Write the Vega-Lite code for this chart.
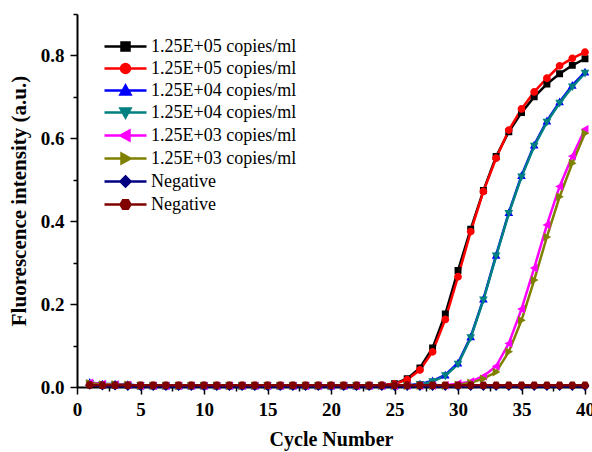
{
  "$schema": "https://vega.github.io/schema/vega-lite/v6.json",
  "width": 508,
  "height": 373,
  "autosize": {"type": "none"},
  "padding": {"left": 77, "top": 14, "right": 7, "bottom": 65},
  "background": "white",
  "config": {
    "view": {"stroke": null},
    "font": "Liberation Serif",
    "axis": {
      "grid": false,
      "domainColor": "black",
      "domainWidth": 2,
      "tickColor": "black",
      "tickWidth": 1.5,
      "tickSize": 7,
      "labelFont": "Liberation Serif",
      "labelFontWeight": "bold",
      "labelFontSize": 19,
      "labelColor": "black",
      "titleFont": "Liberation Serif",
      "titleFontWeight": "bold",
      "titleFontSize": 20,
      "titleColor": "black"
    },
    "legend": {
      "orient": "none",
      "legendX": 37,
      "legendY": 21,
      "title": null,
      "padding": 0,
      "symbolSize": 400,
      "symbolStrokeWidth": 2.5,
      "labelOffset": 14,
      "rowPadding": 1,
      "labelFont": "Liberation Serif",
      "labelFontSize": 18,
      "labelFontWeight": "normal",
      "labelColor": "black"
    }
  },
  "datasets": {
    "qpcr": [
      {"s": "1.25E+05 copies/ml #1", "c": 1, "v": 0.008}, {"s": "1.25E+05 copies/ml #1", "c": 2, "v": 0.005}, {"s": "1.25E+05 copies/ml #1", "c": 3, "v": 0.005}, {"s": "1.25E+05 copies/ml #1", "c": 4, "v": 0.004},
      {"s": "1.25E+05 copies/ml #1", "c": 5, "v": 0.003}, {"s": "1.25E+05 copies/ml #1", "c": 6, "v": 0.003}, {"s": "1.25E+05 copies/ml #1", "c": 7, "v": 0.003}, {"s": "1.25E+05 copies/ml #1", "c": 8, "v": 0.003},
      {"s": "1.25E+05 copies/ml #1", "c": 9, "v": 0.003}, {"s": "1.25E+05 copies/ml #1", "c": 10, "v": 0.003}, {"s": "1.25E+05 copies/ml #1", "c": 11, "v": 0.003}, {"s": "1.25E+05 copies/ml #1", "c": 12, "v": 0.003},
      {"s": "1.25E+05 copies/ml #1", "c": 13, "v": 0.003}, {"s": "1.25E+05 copies/ml #1", "c": 14, "v": 0.003}, {"s": "1.25E+05 copies/ml #1", "c": 15, "v": 0.003}, {"s": "1.25E+05 copies/ml #1", "c": 16, "v": 0.003},
      {"s": "1.25E+05 copies/ml #1", "c": 17, "v": 0.003}, {"s": "1.25E+05 copies/ml #1", "c": 18, "v": 0.003}, {"s": "1.25E+05 copies/ml #1", "c": 19, "v": 0.003}, {"s": "1.25E+05 copies/ml #1", "c": 20, "v": 0.003},
      {"s": "1.25E+05 copies/ml #1", "c": 21, "v": 0.003}, {"s": "1.25E+05 copies/ml #1", "c": 22, "v": 0.003}, {"s": "1.25E+05 copies/ml #1", "c": 23, "v": 0.003}, {"s": "1.25E+05 copies/ml #1", "c": 24, "v": 0.004},
      {"s": "1.25E+05 copies/ml #1", "c": 25, "v": 0.008}, {"s": "1.25E+05 copies/ml #1", "c": 26, "v": 0.02}, {"s": "1.25E+05 copies/ml #1", "c": 27, "v": 0.046}, {"s": "1.25E+05 copies/ml #1", "c": 28, "v": 0.094},
      {"s": "1.25E+05 copies/ml #1", "c": 29, "v": 0.176}, {"s": "1.25E+05 copies/ml #1", "c": 30, "v": 0.281}, {"s": "1.25E+05 copies/ml #1", "c": 31, "v": 0.381}, {"s": "1.25E+05 copies/ml #1", "c": 32, "v": 0.474},
      {"s": "1.25E+05 copies/ml #1", "c": 33, "v": 0.556}, {"s": "1.25E+05 copies/ml #1", "c": 34, "v": 0.616}, {"s": "1.25E+05 copies/ml #1", "c": 35, "v": 0.662}, {"s": "1.25E+05 copies/ml #1", "c": 36, "v": 0.7},
      {"s": "1.25E+05 copies/ml #1", "c": 37, "v": 0.731}, {"s": "1.25E+05 copies/ml #1", "c": 38, "v": 0.756}, {"s": "1.25E+05 copies/ml #1", "c": 39, "v": 0.776}, {"s": "1.25E+05 copies/ml #1", "c": 40, "v": 0.792},

      {"s": "1.25E+05 copies/ml #2", "c": 1, "v": 0.007}, {"s": "1.25E+05 copies/ml #2", "c": 2, "v": 0.005}, {"s": "1.25E+05 copies/ml #2", "c": 3, "v": 0.004}, {"s": "1.25E+05 copies/ml #2", "c": 4, "v": 0.004},
      {"s": "1.25E+05 copies/ml #2", "c": 5, "v": 0.003}, {"s": "1.25E+05 copies/ml #2", "c": 6, "v": 0.003}, {"s": "1.25E+05 copies/ml #2", "c": 7, "v": 0.003}, {"s": "1.25E+05 copies/ml #2", "c": 8, "v": 0.003},
      {"s": "1.25E+05 copies/ml #2", "c": 9, "v": 0.003}, {"s": "1.25E+05 copies/ml #2", "c": 10, "v": 0.003}, {"s": "1.25E+05 copies/ml #2", "c": 11, "v": 0.003}, {"s": "1.25E+05 copies/ml #2", "c": 12, "v": 0.003},
      {"s": "1.25E+05 copies/ml #2", "c": 13, "v": 0.003}, {"s": "1.25E+05 copies/ml #2", "c": 14, "v": 0.003}, {"s": "1.25E+05 copies/ml #2", "c": 15, "v": 0.003}, {"s": "1.25E+05 copies/ml #2", "c": 16, "v": 0.003},
      {"s": "1.25E+05 copies/ml #2", "c": 17, "v": 0.003}, {"s": "1.25E+05 copies/ml #2", "c": 18, "v": 0.003}, {"s": "1.25E+05 copies/ml #2", "c": 19, "v": 0.003}, {"s": "1.25E+05 copies/ml #2", "c": 20, "v": 0.003},
      {"s": "1.25E+05 copies/ml #2", "c": 21, "v": 0.003}, {"s": "1.25E+05 copies/ml #2", "c": 22, "v": 0.003}, {"s": "1.25E+05 copies/ml #2", "c": 23, "v": 0.003}, {"s": "1.25E+05 copies/ml #2", "c": 24, "v": 0.004},
      {"s": "1.25E+05 copies/ml #2", "c": 25, "v": 0.007}, {"s": "1.25E+05 copies/ml #2", "c": 26, "v": 0.018}, {"s": "1.25E+05 copies/ml #2", "c": 27, "v": 0.041}, {"s": "1.25E+05 copies/ml #2", "c": 28, "v": 0.085},
      {"s": "1.25E+05 copies/ml #2", "c": 29, "v": 0.163}, {"s": "1.25E+05 copies/ml #2", "c": 30, "v": 0.266}, {"s": "1.25E+05 copies/ml #2", "c": 31, "v": 0.375}, {"s": "1.25E+05 copies/ml #2", "c": 32, "v": 0.472},
      {"s": "1.25E+05 copies/ml #2", "c": 33, "v": 0.552}, {"s": "1.25E+05 copies/ml #2", "c": 34, "v": 0.62}, {"s": "1.25E+05 copies/ml #2", "c": 35, "v": 0.671}, {"s": "1.25E+05 copies/ml #2", "c": 36, "v": 0.712},
      {"s": "1.25E+05 copies/ml #2", "c": 37, "v": 0.745}, {"s": "1.25E+05 copies/ml #2", "c": 38, "v": 0.775}, {"s": "1.25E+05 copies/ml #2", "c": 39, "v": 0.793}, {"s": "1.25E+05 copies/ml #2", "c": 40, "v": 0.808},

      {"s": "1.25E+04 copies/ml #1", "c": 1, "v": 0.011}, {"s": "1.25E+04 copies/ml #1", "c": 2, "v": 0.007}, {"s": "1.25E+04 copies/ml #1", "c": 3, "v": 0.007}, {"s": "1.25E+04 copies/ml #1", "c": 4, "v": 0.006},
      {"s": "1.25E+04 copies/ml #1", "c": 5, "v": 0.003}, {"s": "1.25E+04 copies/ml #1", "c": 6, "v": 0.003}, {"s": "1.25E+04 copies/ml #1", "c": 7, "v": 0.003}, {"s": "1.25E+04 copies/ml #1", "c": 8, "v": 0.003},
      {"s": "1.25E+04 copies/ml #1", "c": 9, "v": 0.003}, {"s": "1.25E+04 copies/ml #1", "c": 10, "v": 0.003}, {"s": "1.25E+04 copies/ml #1", "c": 11, "v": 0.003}, {"s": "1.25E+04 copies/ml #1", "c": 12, "v": 0.003},
      {"s": "1.25E+04 copies/ml #1", "c": 13, "v": 0.003}, {"s": "1.25E+04 copies/ml #1", "c": 14, "v": 0.003}, {"s": "1.25E+04 copies/ml #1", "c": 15, "v": 0.003}, {"s": "1.25E+04 copies/ml #1", "c": 16, "v": 0.003},
      {"s": "1.25E+04 copies/ml #1", "c": 17, "v": 0.003}, {"s": "1.25E+04 copies/ml #1", "c": 18, "v": 0.003}, {"s": "1.25E+04 copies/ml #1", "c": 19, "v": 0.003}, {"s": "1.25E+04 copies/ml #1", "c": 20, "v": 0.003},
      {"s": "1.25E+04 copies/ml #1", "c": 21, "v": 0.003}, {"s": "1.25E+04 copies/ml #1", "c": 22, "v": 0.003}, {"s": "1.25E+04 copies/ml #1", "c": 23, "v": 0.003}, {"s": "1.25E+04 copies/ml #1", "c": 24, "v": 0.003},
      {"s": "1.25E+04 copies/ml #1", "c": 25, "v": 0.003}, {"s": "1.25E+04 copies/ml #1", "c": 26, "v": 0.004}, {"s": "1.25E+04 copies/ml #1", "c": 27, "v": 0.007}, {"s": "1.25E+04 copies/ml #1", "c": 28, "v": 0.015},
      {"s": "1.25E+04 copies/ml #1", "c": 29, "v": 0.029}, {"s": "1.25E+04 copies/ml #1", "c": 30, "v": 0.058}, {"s": "1.25E+04 copies/ml #1", "c": 31, "v": 0.121}, {"s": "1.25E+04 copies/ml #1", "c": 32, "v": 0.212},
      {"s": "1.25E+04 copies/ml #1", "c": 33, "v": 0.318}, {"s": "1.25E+04 copies/ml #1", "c": 34, "v": 0.421}, {"s": "1.25E+04 copies/ml #1", "c": 35, "v": 0.51}, {"s": "1.25E+04 copies/ml #1", "c": 36, "v": 0.584},
      {"s": "1.25E+04 copies/ml #1", "c": 37, "v": 0.642}, {"s": "1.25E+04 copies/ml #1", "c": 38, "v": 0.688}, {"s": "1.25E+04 copies/ml #1", "c": 39, "v": 0.728}, {"s": "1.25E+04 copies/ml #1", "c": 40, "v": 0.76},

      {"s": "1.25E+04 copies/ml #2", "c": 1, "v": 0.008}, {"s": "1.25E+04 copies/ml #2", "c": 2, "v": 0.005}, {"s": "1.25E+04 copies/ml #2", "c": 3, "v": 0.005}, {"s": "1.25E+04 copies/ml #2", "c": 4, "v": 0.004},
      {"s": "1.25E+04 copies/ml #2", "c": 5, "v": 0.003}, {"s": "1.25E+04 copies/ml #2", "c": 6, "v": 0.003}, {"s": "1.25E+04 copies/ml #2", "c": 7, "v": 0.003}, {"s": "1.25E+04 copies/ml #2", "c": 8, "v": 0.003},
      {"s": "1.25E+04 copies/ml #2", "c": 9, "v": 0.003}, {"s": "1.25E+04 copies/ml #2", "c": 10, "v": 0.003}, {"s": "1.25E+04 copies/ml #2", "c": 11, "v": 0.003}, {"s": "1.25E+04 copies/ml #2", "c": 12, "v": 0.003},
      {"s": "1.25E+04 copies/ml #2", "c": 13, "v": 0.003}, {"s": "1.25E+04 copies/ml #2", "c": 14, "v": 0.003}, {"s": "1.25E+04 copies/ml #2", "c": 15, "v": 0.003}, {"s": "1.25E+04 copies/ml #2", "c": 16, "v": 0.003},
      {"s": "1.25E+04 copies/ml #2", "c": 17, "v": 0.003}, {"s": "1.25E+04 copies/ml #2", "c": 18, "v": 0.003}, {"s": "1.25E+04 copies/ml #2", "c": 19, "v": 0.003}, {"s": "1.25E+04 copies/ml #2", "c": 20, "v": 0.003},
      {"s": "1.25E+04 copies/ml #2", "c": 21, "v": 0.003}, {"s": "1.25E+04 copies/ml #2", "c": 22, "v": 0.003}, {"s": "1.25E+04 copies/ml #2", "c": 23, "v": 0.003}, {"s": "1.25E+04 copies/ml #2", "c": 24, "v": 0.003},
      {"s": "1.25E+04 copies/ml #2", "c": 25, "v": 0.003}, {"s": "1.25E+04 copies/ml #2", "c": 26, "v": 0.003}, {"s": "1.25E+04 copies/ml #2", "c": 27, "v": 0.006}, {"s": "1.25E+04 copies/ml #2", "c": 28, "v": 0.013},
      {"s": "1.25E+04 copies/ml #2", "c": 29, "v": 0.027}, {"s": "1.25E+04 copies/ml #2", "c": 30, "v": 0.055}, {"s": "1.25E+04 copies/ml #2", "c": 31, "v": 0.119}, {"s": "1.25E+04 copies/ml #2", "c": 32, "v": 0.21},
      {"s": "1.25E+04 copies/ml #2", "c": 33, "v": 0.316}, {"s": "1.25E+04 copies/ml #2", "c": 34, "v": 0.419}, {"s": "1.25E+04 copies/ml #2", "c": 35, "v": 0.507}, {"s": "1.25E+04 copies/ml #2", "c": 36, "v": 0.581},
      {"s": "1.25E+04 copies/ml #2", "c": 37, "v": 0.639}, {"s": "1.25E+04 copies/ml #2", "c": 38, "v": 0.685}, {"s": "1.25E+04 copies/ml #2", "c": 39, "v": 0.724}, {"s": "1.25E+04 copies/ml #2", "c": 40, "v": 0.757},

      {"s": "1.25E+03 copies/ml #1", "c": 1, "v": 0.01}, {"s": "1.25E+03 copies/ml #1", "c": 2, "v": 0.007}, {"s": "1.25E+03 copies/ml #1", "c": 3, "v": 0.006}, {"s": "1.25E+03 copies/ml #1", "c": 4, "v": 0.005},
      {"s": "1.25E+03 copies/ml #1", "c": 5, "v": 0.003}, {"s": "1.25E+03 copies/ml #1", "c": 6, "v": 0.003}, {"s": "1.25E+03 copies/ml #1", "c": 7, "v": 0.003}, {"s": "1.25E+03 copies/ml #1", "c": 8, "v": 0.003},
      {"s": "1.25E+03 copies/ml #1", "c": 9, "v": 0.003}, {"s": "1.25E+03 copies/ml #1", "c": 10, "v": 0.003}, {"s": "1.25E+03 copies/ml #1", "c": 11, "v": 0.003}, {"s": "1.25E+03 copies/ml #1", "c": 12, "v": 0.003},
      {"s": "1.25E+03 copies/ml #1", "c": 13, "v": 0.003}, {"s": "1.25E+03 copies/ml #1", "c": 14, "v": 0.003}, {"s": "1.25E+03 copies/ml #1", "c": 15, "v": 0.003}, {"s": "1.25E+03 copies/ml #1", "c": 16, "v": 0.003},
      {"s": "1.25E+03 copies/ml #1", "c": 17, "v": 0.003}, {"s": "1.25E+03 copies/ml #1", "c": 18, "v": 0.003}, {"s": "1.25E+03 copies/ml #1", "c": 19, "v": 0.003}, {"s": "1.25E+03 copies/ml #1", "c": 20, "v": 0.003},
      {"s": "1.25E+03 copies/ml #1", "c": 21, "v": 0.003}, {"s": "1.25E+03 copies/ml #1", "c": 22, "v": 0.003}, {"s": "1.25E+03 copies/ml #1", "c": 23, "v": 0.003}, {"s": "1.25E+03 copies/ml #1", "c": 24, "v": 0.003},
      {"s": "1.25E+03 copies/ml #1", "c": 25, "v": 0.003}, {"s": "1.25E+03 copies/ml #1", "c": 26, "v": 0.003}, {"s": "1.25E+03 copies/ml #1", "c": 27, "v": 0.003}, {"s": "1.25E+03 copies/ml #1", "c": 28, "v": 0.003},
      {"s": "1.25E+03 copies/ml #1", "c": 29, "v": 0.004}, {"s": "1.25E+03 copies/ml #1", "c": 30, "v": 0.008}, {"s": "1.25E+03 copies/ml #1", "c": 31, "v": 0.013}, {"s": "1.25E+03 copies/ml #1", "c": 32, "v": 0.026},
      {"s": "1.25E+03 copies/ml #1", "c": 33, "v": 0.05}, {"s": "1.25E+03 copies/ml #1", "c": 34, "v": 0.105}, {"s": "1.25E+03 copies/ml #1", "c": 35, "v": 0.188}, {"s": "1.25E+03 copies/ml #1", "c": 36, "v": 0.287},
      {"s": "1.25E+03 copies/ml #1", "c": 37, "v": 0.391}, {"s": "1.25E+03 copies/ml #1", "c": 38, "v": 0.484}, {"s": "1.25E+03 copies/ml #1", "c": 39, "v": 0.557}, {"s": "1.25E+03 copies/ml #1", "c": 40, "v": 0.622},

      {"s": "1.25E+03 copies/ml #2", "c": 1, "v": 0.009}, {"s": "1.25E+03 copies/ml #2", "c": 2, "v": 0.006}, {"s": "1.25E+03 copies/ml #2", "c": 3, "v": 0.006}, {"s": "1.25E+03 copies/ml #2", "c": 4, "v": 0.005},
      {"s": "1.25E+03 copies/ml #2", "c": 5, "v": 0.003}, {"s": "1.25E+03 copies/ml #2", "c": 6, "v": 0.003}, {"s": "1.25E+03 copies/ml #2", "c": 7, "v": 0.003}, {"s": "1.25E+03 copies/ml #2", "c": 8, "v": 0.003},
      {"s": "1.25E+03 copies/ml #2", "c": 9, "v": 0.003}, {"s": "1.25E+03 copies/ml #2", "c": 10, "v": 0.003}, {"s": "1.25E+03 copies/ml #2", "c": 11, "v": 0.003}, {"s": "1.25E+03 copies/ml #2", "c": 12, "v": 0.003},
      {"s": "1.25E+03 copies/ml #2", "c": 13, "v": 0.003}, {"s": "1.25E+03 copies/ml #2", "c": 14, "v": 0.003}, {"s": "1.25E+03 copies/ml #2", "c": 15, "v": 0.003}, {"s": "1.25E+03 copies/ml #2", "c": 16, "v": 0.003},
      {"s": "1.25E+03 copies/ml #2", "c": 17, "v": 0.003}, {"s": "1.25E+03 copies/ml #2", "c": 18, "v": 0.003}, {"s": "1.25E+03 copies/ml #2", "c": 19, "v": 0.003}, {"s": "1.25E+03 copies/ml #2", "c": 20, "v": 0.003},
      {"s": "1.25E+03 copies/ml #2", "c": 21, "v": 0.003}, {"s": "1.25E+03 copies/ml #2", "c": 22, "v": 0.003}, {"s": "1.25E+03 copies/ml #2", "c": 23, "v": 0.003}, {"s": "1.25E+03 copies/ml #2", "c": 24, "v": 0.003},
      {"s": "1.25E+03 copies/ml #2", "c": 25, "v": 0.003}, {"s": "1.25E+03 copies/ml #2", "c": 26, "v": 0.003}, {"s": "1.25E+03 copies/ml #2", "c": 27, "v": 0.003}, {"s": "1.25E+03 copies/ml #2", "c": 28, "v": 0.003},
      {"s": "1.25E+03 copies/ml #2", "c": 29, "v": 0.003}, {"s": "1.25E+03 copies/ml #2", "c": 30, "v": 0.005}, {"s": "1.25E+03 copies/ml #2", "c": 31, "v": 0.01}, {"s": "1.25E+03 copies/ml #2", "c": 32, "v": 0.02},
      {"s": "1.25E+03 copies/ml #2", "c": 33, "v": 0.036}, {"s": "1.25E+03 copies/ml #2", "c": 34, "v": 0.085}, {"s": "1.25E+03 copies/ml #2", "c": 35, "v": 0.161}, {"s": "1.25E+03 copies/ml #2", "c": 36, "v": 0.258},
      {"s": "1.25E+03 copies/ml #2", "c": 37, "v": 0.362}, {"s": "1.25E+03 copies/ml #2", "c": 38, "v": 0.459}, {"s": "1.25E+03 copies/ml #2", "c": 39, "v": 0.54}, {"s": "1.25E+03 copies/ml #2", "c": 40, "v": 0.612},

      {"s": "Negative #1", "c": 1, "v": 0.004}, {"s": "Negative #1", "c": 2, "v": 0.002}, {"s": "Negative #1", "c": 3, "v": 0.002}, {"s": "Negative #1", "c": 4, "v": 0.001},
      {"s": "Negative #1", "c": 5, "v": 0.001}, {"s": "Negative #1", "c": 6, "v": 0.001}, {"s": "Negative #1", "c": 7, "v": 0.001}, {"s": "Negative #1", "c": 8, "v": 0.001},
      {"s": "Negative #1", "c": 9, "v": 0.001}, {"s": "Negative #1", "c": 10, "v": 0.001}, {"s": "Negative #1", "c": 11, "v": 0.001}, {"s": "Negative #1", "c": 12, "v": 0.001},
      {"s": "Negative #1", "c": 13, "v": 0.001}, {"s": "Negative #1", "c": 14, "v": 0.001}, {"s": "Negative #1", "c": 15, "v": 0.001}, {"s": "Negative #1", "c": 16, "v": 0.001},
      {"s": "Negative #1", "c": 17, "v": 0.001}, {"s": "Negative #1", "c": 18, "v": 0.001}, {"s": "Negative #1", "c": 19, "v": 0.001}, {"s": "Negative #1", "c": 20, "v": 0.001},
      {"s": "Negative #1", "c": 21, "v": 0.001}, {"s": "Negative #1", "c": 22, "v": 0.001}, {"s": "Negative #1", "c": 23, "v": 0.001}, {"s": "Negative #1", "c": 24, "v": 0.001},
      {"s": "Negative #1", "c": 25, "v": 0.001}, {"s": "Negative #1", "c": 26, "v": 0.001}, {"s": "Negative #1", "c": 27, "v": 0.001}, {"s": "Negative #1", "c": 28, "v": 0.001},
      {"s": "Negative #1", "c": 29, "v": 0.001}, {"s": "Negative #1", "c": 30, "v": 0.001}, {"s": "Negative #1", "c": 31, "v": 0.001}, {"s": "Negative #1", "c": 32, "v": 0.001},
      {"s": "Negative #1", "c": 33, "v": 0.001}, {"s": "Negative #1", "c": 34, "v": 0.001}, {"s": "Negative #1", "c": 35, "v": 0.001}, {"s": "Negative #1", "c": 36, "v": 0.001},
      {"s": "Negative #1", "c": 37, "v": 0.001}, {"s": "Negative #1", "c": 38, "v": 0.001}, {"s": "Negative #1", "c": 39, "v": 0.001}, {"s": "Negative #1", "c": 40, "v": 0.001},

      {"s": "Negative #2", "c": 1, "v": 0.005}, {"s": "Negative #2", "c": 2, "v": 0.004}, {"s": "Negative #2", "c": 3, "v": 0.004}, {"s": "Negative #2", "c": 4, "v": 0.004},
      {"s": "Negative #2", "c": 5, "v": 0.004}, {"s": "Negative #2", "c": 6, "v": 0.004}, {"s": "Negative #2", "c": 7, "v": 0.004}, {"s": "Negative #2", "c": 8, "v": 0.004},
      {"s": "Negative #2", "c": 9, "v": 0.004}, {"s": "Negative #2", "c": 10, "v": 0.004}, {"s": "Negative #2", "c": 11, "v": 0.004}, {"s": "Negative #2", "c": 12, "v": 0.004},
      {"s": "Negative #2", "c": 13, "v": 0.004}, {"s": "Negative #2", "c": 14, "v": 0.004}, {"s": "Negative #2", "c": 15, "v": 0.004}, {"s": "Negative #2", "c": 16, "v": 0.004},
      {"s": "Negative #2", "c": 17, "v": 0.004}, {"s": "Negative #2", "c": 18, "v": 0.004}, {"s": "Negative #2", "c": 19, "v": 0.004}, {"s": "Negative #2", "c": 20, "v": 0.004},
      {"s": "Negative #2", "c": 21, "v": 0.004}, {"s": "Negative #2", "c": 22, "v": 0.004}, {"s": "Negative #2", "c": 23, "v": 0.004}, {"s": "Negative #2", "c": 24, "v": 0.004},
      {"s": "Negative #2", "c": 25, "v": 0.004}, {"s": "Negative #2", "c": 26, "v": 0.004}, {"s": "Negative #2", "c": 27, "v": 0.004}, {"s": "Negative #2", "c": 28, "v": 0.004},
      {"s": "Negative #2", "c": 29, "v": 0.004}, {"s": "Negative #2", "c": 30, "v": 0.004}, {"s": "Negative #2", "c": 31, "v": 0.004}, {"s": "Negative #2", "c": 32, "v": 0.004},
      {"s": "Negative #2", "c": 33, "v": 0.004}, {"s": "Negative #2", "c": 34, "v": 0.004}, {"s": "Negative #2", "c": 35, "v": 0.004}, {"s": "Negative #2", "c": 36, "v": 0.004},
      {"s": "Negative #2", "c": 37, "v": 0.004}, {"s": "Negative #2", "c": 38, "v": 0.004}, {"s": "Negative #2", "c": 39, "v": 0.004}, {"s": "Negative #2", "c": 40, "v": 0.004}
    ]
  },
  "data": {"name": "qpcr"},
  "layer": [
    {
      "mark": {"type": "line", "strokeWidth": 2.5},
      "encoding": {
        "x": {
          "field": "c", "type": "quantitative",
          "scale": {"domain": [0, 40]},
          "axis": {"values": [0, 5, 10, 15, 20, 25, 30, 35, 40], "title": "Cycle Number", "labelFlush": false, "labelPadding": 6, "titlePadding": 10}
        },
        "y": {
          "field": "v", "type": "quantitative",
          "scale": {"domain": [0, 0.9]},
          "axis": {"values": [0, 0.2, 0.4, 0.6, 0.8], "format": ".1f", "title": "Fluorescence intensity (a.u.)", "titleFontSize": 21, "labelPadding": 6, "titlePadding": 11}
        },
        "stroke": {
          "field": "s", "type": "nominal",
          "scale": {
            "domain": ["1.25E+05 copies/ml #1", "1.25E+05 copies/ml #2", "1.25E+04 copies/ml #1", "1.25E+04 copies/ml #2", "1.25E+03 copies/ml #1", "1.25E+03 copies/ml #2", "Negative #1", "Negative #2"],
            "range": ["#000000", "#ff0000", "#0000ff", "#008080", "#ff00ff", "#808000", "#000080", "#800000"]
          },
          "legend": {"labelExpr": "slice(datum.label, 0, -3)"}
        }
      }
    },
    {
      "mark": {"type": "point", "filled": true, "size": 300, "opacity": 1},
      "encoding": {
        "x": {
          "field": "c", "type": "quantitative",
          "axis": {"orient": "bottom", "values": [2.5, 7.5, 12.5, 17.5, 22.5, 27.5, 32.5, 37.5], "labels": false, "domain": false, "tickSize": 4, "title": null}
        },
        "y": {
          "field": "v", "type": "quantitative",
          "axis": {"orient": "left", "values": [0.1, 0.3, 0.5, 0.7, 0.9], "labels": false, "domain": false, "tickSize": 4, "title": null}
        },
        "fill": {
          "field": "s", "type": "nominal",
          "scale": {
            "domain": ["1.25E+05 copies/ml #1", "1.25E+05 copies/ml #2", "1.25E+04 copies/ml #1", "1.25E+04 copies/ml #2", "1.25E+03 copies/ml #1", "1.25E+03 copies/ml #2", "Negative #1", "Negative #2"],
            "range": ["#000000", "#ff0000", "#0000ff", "#008080", "#ff00ff", "#808000", "#000080", "#800000"]
          },
          "legend": {"labelExpr": "slice(datum.label, 0, -3)"}
        },
        "stroke": {
          "field": "s", "type": "nominal",
          "legend": {"labelExpr": "slice(datum.label, 0, -3)"}
        },
        "strokeWidth": {"value": 0},
        "shape": {
          "field": "s", "type": "nominal",
          "scale": {
            "domain": ["1.25E+05 copies/ml #1", "1.25E+05 copies/ml #2", "1.25E+04 copies/ml #1", "1.25E+04 copies/ml #2", "1.25E+03 copies/ml #1", "1.25E+03 copies/ml #2", "Negative #1", "Negative #2"],
            "range": [
              "M-2.1,0H2.1M-0.4,-0.4H0.4V0.4H-0.4Z",
              "M-2.1,0H2.1M-0.45,0A0.45,0.45 0 1,0 0.45,0A0.45,0.45 0 1,0 -0.45,0Z",
              "M-2.1,0H2.1M0,-0.5L0.5,0.4L-0.5,0.4Z",
              "M-2.1,0H2.1M0,0.5L0.5,-0.4L-0.5,-0.4Z",
              "M-2.1,0H2.1M-0.5,0L0.4,-0.5L0.4,0.5Z",
              "M-2.1,0H2.1M0.5,0L-0.4,-0.5L-0.4,0.5Z",
              "M-2.1,0H2.1M0,-0.5L0.5,0L0,0.5L-0.5,0Z",
              "M-2.1,0H2.1M-0.25,-0.43H0.25L0.5,0L0.25,0.43H-0.25L-0.5,0Z"
            ]
          },
          "legend": {"labelExpr": "slice(datum.label, 0, -3)"}
        }
      }
    }
  ],
  "resolve": {
    "axis": {"x": "independent", "y": "independent"}
  }
}
